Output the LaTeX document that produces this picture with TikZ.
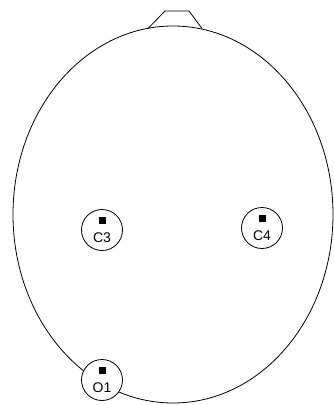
\documentclass[tikz,border=0pt]{standalone}
\usepackage{fontspec}
\setsansfont{Liberation Sans}
\usepackage{tikz}

\begin{document}
\begin{tikzpicture}[
    x=1pt, y=-1pt,
    head/.style={draw, line width=0.8pt},
    electrode/.style={draw, circle, fill=white, line width=0.8pt,
        minimum size=41pt, inner sep=0pt, align=center,
        font=\sffamily\fontsize{14}{18.5}\selectfont},
]
    \useasboundingbox (0,0) rectangle (334,405);

    % head outline and nose
    \draw[head] (173,214.5) ellipse [x radius=160, y radius=188.5];
    \coordinate (noseL) at (148,28.5);
    \coordinate (noseR) at (202,28.5);
    \draw[head] (noseL) -- (165,11) -- (189,11) -- (noseR);

    % electrodes
    \node[electrode] (c3) at (102,230) {\rule{7pt}{7pt}\\C3};
    \node[electrode] (c4) at (262,228) {\rule{7pt}{7pt}\\C4};
    \node[electrode] (o1) at (102,380) {\rule{7pt}{7pt}\\O1};
\end{tikzpicture}
\end{document}
